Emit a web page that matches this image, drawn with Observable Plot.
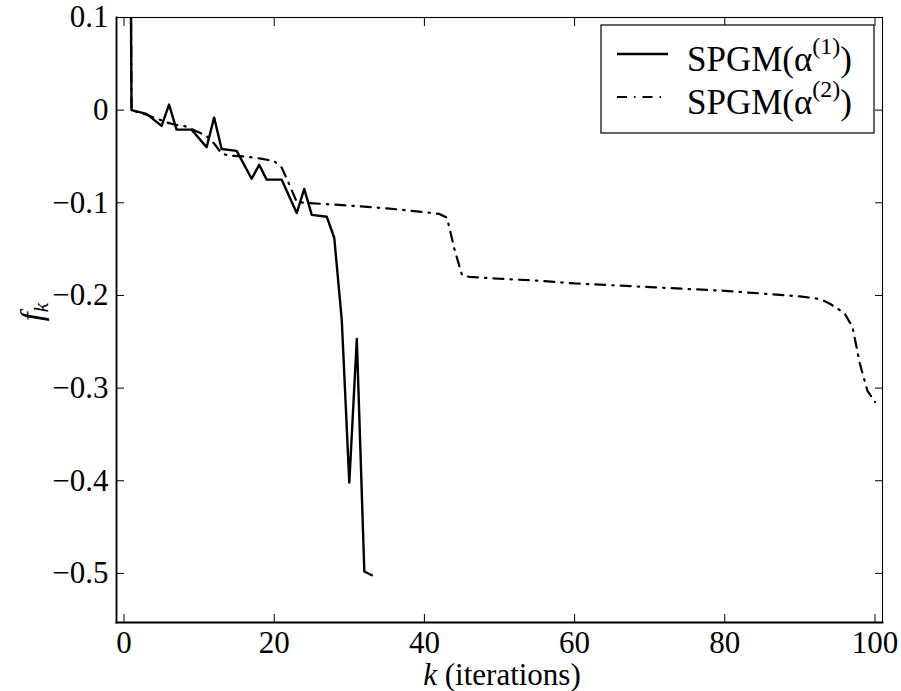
<!DOCTYPE html>
<html>
<head>
<meta charset="utf-8">
<script src="https://cdn.jsdelivr.net/npm/d3@7"></script>
<script src="https://cdn.jsdelivr.net/npm/@observablehq/plot@0.6"></script>
<style>
  html, body { margin: 0; padding: 0; background: #fff; }
  #chart { width: 901px; height: 691px; }
</style>
</head>
<body>
<div id="chart"></div>
<script>
// SPGM(alpha^(1)) — solid line
const k1 = [0, 1, 3, 5, 6, 7, 9, 11, 12, 13, 15, 17, 18, 19, 21, 23, 24, 25, 27, 28, 29, 30, 31, 32, 33];
const f1 = [1.5, 0, -0.004, -0.017, 0.006, -0.021, -0.021, -0.040, -0.008, -0.042, -0.044, -0.074, -0.059, -0.075, -0.075, -0.111, -0.085, -0.113, -0.115, -0.138, -0.227, -0.402, -0.247, -0.498, -0.502];

// SPGM(alpha^(2)) — dash-dot line
const k2 = [0, 1, 3, 5, 6, 7, 8, 10, 11, 12, 13, 14, 16, 18, 20, 21, 22, 23, 24, 30, 35, 40, 42, 43, 44, 45, 46, 50, 55, 60, 65, 70, 75, 80, 85, 90, 92, 93, 94, 95, 96, 97, 98, 99, 100];
const f2 = [1.5, 0, -0.005, -0.011, -0.014, -0.016, -0.017, -0.024, -0.028, -0.036, -0.047, -0.049, -0.050, -0.052, -0.055, -0.062, -0.080, -0.099, -0.100, -0.103, -0.106, -0.110, -0.112, -0.116, -0.150, -0.178, -0.180, -0.182, -0.184, -0.187, -0.189, -0.191, -0.193, -0.195, -0.198, -0.201, -0.203, -0.205, -0.209, -0.214, -0.220, -0.234, -0.274, -0.303, -0.315];

const xTicks = [0, 20, 40, 60, 80, 100];
const yTicks = [-0.5, -0.4, -0.3, -0.2, -0.1, 0, 0.1];
const seriesNames = ["SPGM(α", "SPGM(α"];
const seriesSup = ["(1)", "(2)"];
const xLabelItalic = "k";
const xLabelRest = " (iterations)";
const yLabelMain = "f";
const yLabelSub = "k";

const s1 = k1.map((k, i) => ({k, f: f1[i]}));
const s2 = k2.map((k, i) => ({k, f: f2[i]}));

const FONT = "\"Liberation Serif\", \"Times New Roman\", serif";
const DASH = "10,7,1.5,7";
const fmtY = d => d === 0 ? "0" : d.toFixed(1).replace("-", "\u2212");

const svg = Plot.plot({
  width: 901,
  height: 691,
  marginLeft: 116,
  marginRight: 19,
  marginTop: 17,
  marginBottom: 69,
  style: {fontFamily: FONT, background: "#fff", color: "#000"},
  x: {domain: [-1, 101]},
  y: {domain: [-0.553, 0.1]},
  marks: [
    Plot.axisX({anchor: "bottom", ticks: xTicks, tickSize: 8, dy: -8, tickPadding: 8, fontSize: 31, label: null}),
    Plot.axisX({anchor: "top", ticks: xTicks, tickSize: 8, dy: 8, tickFormat: () => "", label: null}),
    Plot.axisY({anchor: "left", ticks: yTicks, tickSize: 8, dx: 8, tickPadding: 8, fontSize: 31, tickFormat: fmtY, label: null}),
    Plot.axisY({anchor: "right", ticks: yTicks, tickSize: 8, dx: -8, tickFormat: () => "", label: null}),
    Plot.line(s2, {x: "k", y: "f", stroke: "#000", strokeWidth: 2.2, strokeDasharray: DASH, clip: true}),
    Plot.line(s1, {x: "k", y: "f", stroke: "#000", strokeWidth: 2.4, clip: true}),
    Plot.frame({stroke: "#000", strokeWidth: 1.1}),
    Plot.frame({anchor: "left", stroke: "#000", strokeWidth: 1.8}),
    Plot.frame({anchor: "bottom", stroke: "#000", strokeWidth: 1.8})
  ]
});

const sel = d3.select(svg);
sel.selectAll("text").style("font-family", FONT);

// x label
const xl = sel.append("text")
  .attr("x", 502).attr("y", 685)
  .attr("text-anchor", "middle")
  .style("font-family", FONT).attr("font-size", 31).attr("fill", "#000");
xl.append("tspan").attr("font-style", "italic").text(xLabelItalic);
xl.append("tspan").text(xLabelRest);

// y label
const yl = sel.append("text")
  .attr("transform", "translate(42,312) rotate(-90)")
  .attr("text-anchor", "middle")
  .style("font-family", FONT).attr("font-size", 32).attr("fill", "#000");
yl.append("tspan").attr("font-style", "italic").text(yLabelMain);
yl.append("tspan").attr("font-style", "italic").attr("font-size", 22).attr("dy", 6).text(yLabelSub);

// legend
const lg = sel.append("g");
lg.append("rect").attr("x", 601).attr("y", 25).attr("width", 273).attr("height", 108)
  .attr("fill", "#fff").attr("stroke", "#000").attr("stroke-width", 1.2);
const rowsY = [54, 97];
rowsY.forEach((yy, i) => {
  lg.append("line").attr("x1", 617).attr("x2", 668).attr("y1", yy).attr("y2", yy)
    .attr("stroke", "#000").attr("stroke-width", i === 0 ? 2.4 : 2.2)
    .attr("stroke-dasharray", i === 0 ? null : DASH);
  const t = lg.append("text").attr("x", 687).attr("y", yy + 17)
    .attr("text-anchor", "start")
    .style("font-family", FONT).attr("font-size", 35).attr("fill", "#000");
  t.append("tspan").text(seriesNames[i]);
  t.append("tspan").attr("font-size", 24).attr("dy", -17).text(seriesSup[i]);
  t.append("tspan").attr("dy", 17).text(")");
});

document.getElementById("chart").appendChild(svg);
</script>
</body>
</html>
